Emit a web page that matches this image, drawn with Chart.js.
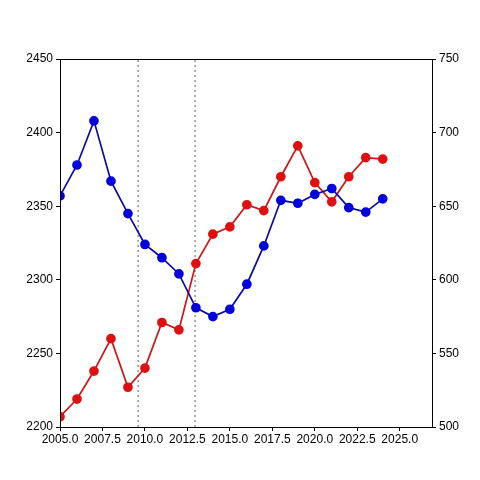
<!DOCTYPE html>
<html>
<head>
<meta charset="utf-8">
<script src="https://cdn.jsdelivr.net/npm/chart.js@4/dist/chart.umd.min.js"></script>
<style>
  html, body { margin: 0; padding: 0; background: #fff; }
  #wrap { width: 480px; height: 480px; }
</style>
</head>
<body>
<div id="wrap"><canvas id="myChart"></canvas></div>
<script>
var years = [2005,2006,2007,2008,2009,2010,2011,2012,2013,2014,2015,2016,2017,2018,2019,2020,2021,2022,2023,2024];

// left axis series (blue)
var blueVals = [2357,2378,2408,2367,2345,2324,2315,2304,2281,2275,2280,2297,2323,2354,2352,2358,2362,2349,2346,2355];

// right axis series (red)
var redVals = [507,519,538,560,527,540,571,566,611,631,636,651,647,670,691,666,653,670,683,682];

// dotted vertical markers
var markerYears = [2009.6, 2012.95];

function pairs(xs, ys){
  var out = [];
  for(var i=0; i<xs.length; i++){
    out.push({x: xs[i], y: ys[i]});
  }
  return out;
}

var datasets = [
  {
    label: "blue",
    data: pairs(years, blueVals),
    yAxisID: "y",
    borderColor: "#0a0aa8",
    backgroundColor: "#0000dd",
    pointBackgroundColor: "#0000dd",
    pointBorderColor: "#0000dd",
    borderWidth: 1.7,
    pointRadius: 4,
    tension: 0
  },
  {
    label: "red",
    data: pairs(years, redVals),
    yAxisID: "y2",
    borderColor: "#cc1515",
    backgroundColor: "#e01010",
    pointBackgroundColor: "#e01010",
    pointBorderColor: "#e01010",
    borderWidth: 1.7,
    pointRadius: 4,
    tension: 0
  }
];

for(var m=0; m<markerYears.length; m++){
  datasets.push({
    label: "marker" + m,
    data: [{x: markerYears[m], y: 2200}, {x: markerYears[m], y: 2450}],
    yAxisID: "y",
    borderColor: "#777777",
    borderWidth: 1.2,
    borderDash: [2, 3],
    pointRadius: 0,
    fill: false
  });
}

// frame around the plot area (top edge too)
var framePlugin = {
  id: "frame",
  afterDraw: function(chart){
    var a = chart.chartArea;
    var c = chart.ctx;
    c.save();
    c.strokeStyle = "#000";
    c.lineWidth = 1;
    c.strokeRect(Math.round(a.left)+0.5, Math.round(a.top)+0.5, Math.round(a.right-a.left), Math.round(a.bottom-a.top));
    c.restore();
  }
};

function plain(v){ return String(v); }

Chart.defaults.font.family = "'Liberation Sans', 'DejaVu Sans', sans-serif";
Chart.defaults.font.size = 12;
Chart.defaults.color = "#000";

var ctx = document.getElementById("myChart").getContext("2d");
var chart = new Chart(ctx, {
  type: "line",
  data: { datasets: datasets },
  options: {
    responsive: true,
    maintainAspectRatio: false,
    animation: false,
    layout: { padding: { left: 0, right: 0, top: 59, bottom: 33 } },
    plugins: {
      legend: { display: false },
      tooltip: { enabled: false }
    },
    scales: {
      x: {
        type: "linear",
        min: 2005,
        max: 2026.9,
        afterFit: function(s){ s.height = 20; },
        afterBuildTicks: function(s){
          var t = [];
          for(var v=2005; v<=2025; v+=2.5) t.push({value: v});
          s.ticks = t;
        },
        ticks: {
          padding: 1,
          maxRotation: 0,
          autoSkip: false,
          callback: function(v){ return Number(v).toFixed(1); }
        },
        grid: { drawOnChartArea: false, drawTicks: true, tickLength: 4, color: "#000" },
        border: { display: true, color: "#000" }
      },
      y: {
        position: "left",
        min: 2200,
        max: 2450,
        afterFit: function(s){ s.width = 60; },
        ticks: { stepSize: 50, padding: 3, callback: plain },
        grid: { drawOnChartArea: false, drawTicks: true, tickLength: 4, color: "#000" },
        border: { display: true, color: "#000" }
      },
      y2: {
        position: "right",
        min: 500,
        max: 750,
        afterFit: function(s){ s.width = 48; },
        ticks: { stepSize: 50, padding: 3, callback: plain },
        grid: { drawOnChartArea: false, drawTicks: true, tickLength: 4, color: "#000" },
        border: { display: true, color: "#000" }
      }
    }
  },
  plugins: [framePlugin]
});
</script>
</body>
</html>
